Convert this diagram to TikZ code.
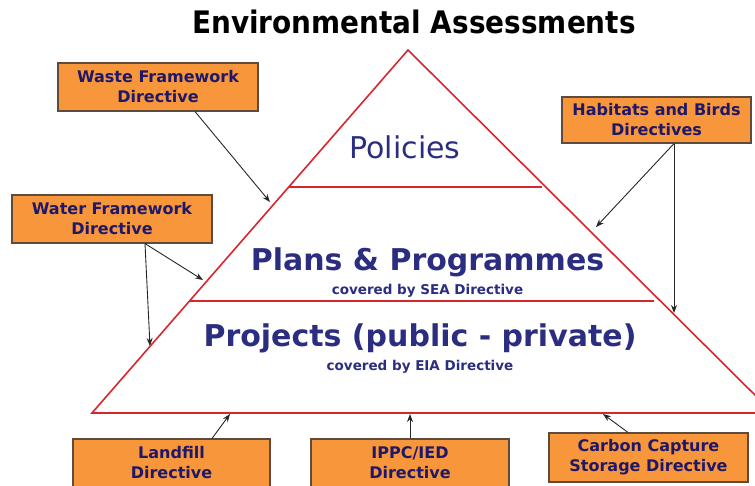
\documentclass[tikz,border=0pt]{standalone}
\usepackage{fontspec}
\setmainfont{DejaVu Sans}
\newfontfamily\titlefont{DejaVu Sans Condensed}
\usepackage{tikz}
\usetikzlibrary{arrows.meta}
\definecolor{boxorange}{HTML}{F7963A}
\definecolor{boxedge}{HTML}{5E4B3C}
\definecolor{boxtext}{HTML}{1F1868}
\definecolor{pyrtext}{HTML}{2B2E80}
\definecolor{pyrred}{HTML}{D8262C}
\tikzstyle{dirbox} = [draw=boxedge, fill=boxorange, line width=1.1pt,
    rectangle, minimum width=199pt, minimum height=48pt, align=center,
    text=boxtext, font=\fontsize{16}{20}\selectfont\bfseries]
\tikzstyle{levelname} =[text=pyrtext, font=\fontsize{30}{34}\selectfont\bfseries]
\tikzstyle{levelnote} =[text=pyrtext, font=\fontsize{13.5}{16}\selectfont\bfseries]
\tikzstyle{pointer} =[draw=black!85, line width=0.9pt, -{Stealth[length=8pt,width=6pt]}]

\begin{document}
\begin{tikzpicture}[x=1pt, y=-1pt]
\useasboundingbox (0,0) rectangle (755,485);
\clip (0,0) rectangle (755,485);
\node [font=\fontsize{31}{34}\selectfont\titlefont\bfseries] (title) at (414,22) {Environmental Assessments};
% pyramid
\draw [pyrred, line width=1.6pt] (92,413) -- (408,50) -- (773,413) -- cycle;
\draw [pyrred, line width=1.6pt] (289,187) -- (542,187);
\draw [pyrred, line width=1.6pt] (190,301) -- (654,301);
\node [text=pyrtext, font=\fontsize{30}{34}\selectfont] (policies) at (405,147) {Policies};
\node [levelname] (plans) at (427.5,262) {Plans \& Programmes};
\node [levelnote] (sea) at (427.5,291) {covered by SEA Directive};
\node [levelname] (projects) at (420,338) {Projects (public - private)};
\node [levelnote] (eia) at (420,367) {covered by EIA Directive};
% directives
\node [dirbox, minimum width=200pt] (waste) at (158,87) {Waste Framework\\Directive};
\node [dirbox, minimum width=189pt, minimum height=46pt] (habitats) at (656.5,120) {Habitats and Birds\\Directives};
\node [dirbox, minimum width=200pt] (water) at (112,219) {Water Framework\\Directive};
\node [dirbox, minimum width=197pt] (landfill) at (171.5,463) {Landfill\\Directive};
\node [dirbox, minimum width=198pt] (ippc) at (410,463) {IPPC/IED\\Directive};
\node [dirbox, minimum height=49pt] (ccs) at (648.5,457.5) {Carbon Capture\\Storage Directive};
% arrow ends on the pyramid
\coordinate (wasteend) at (270,202);
\coordinate (waterend1) at (203,280);
\coordinate (waterend2) at (150,346);
\coordinate (habend1) at (596,227);
\coordinate (habend2) at (674,313);
\coordinate (landend) at (230,414);
\coordinate (ippcend) at (410,414);
\coordinate (ccsend) at (603,414);
\draw [pointer] (waste.south) ++(37,0) -- (wasteend);
\draw [pointer] (water.south) ++(33,0) -- (waterend1);
\draw [pointer] (water.south) ++(33,0) -- (waterend2);
\draw [pointer] (habitats.south) ++(17.5,0) -- (habend1);
\draw [pointer] (habitats.south) ++(17.5,0) -- (habend2);
\draw [pointer] (landfill.north) ++(40.5,0) -- (landend);
\draw [pointer] (ippc.north) -- (ippcend);
\draw [pointer] (ccs.north) ++(-20.5,0) -- (ccsend);
\end{tikzpicture}
\end{document}
